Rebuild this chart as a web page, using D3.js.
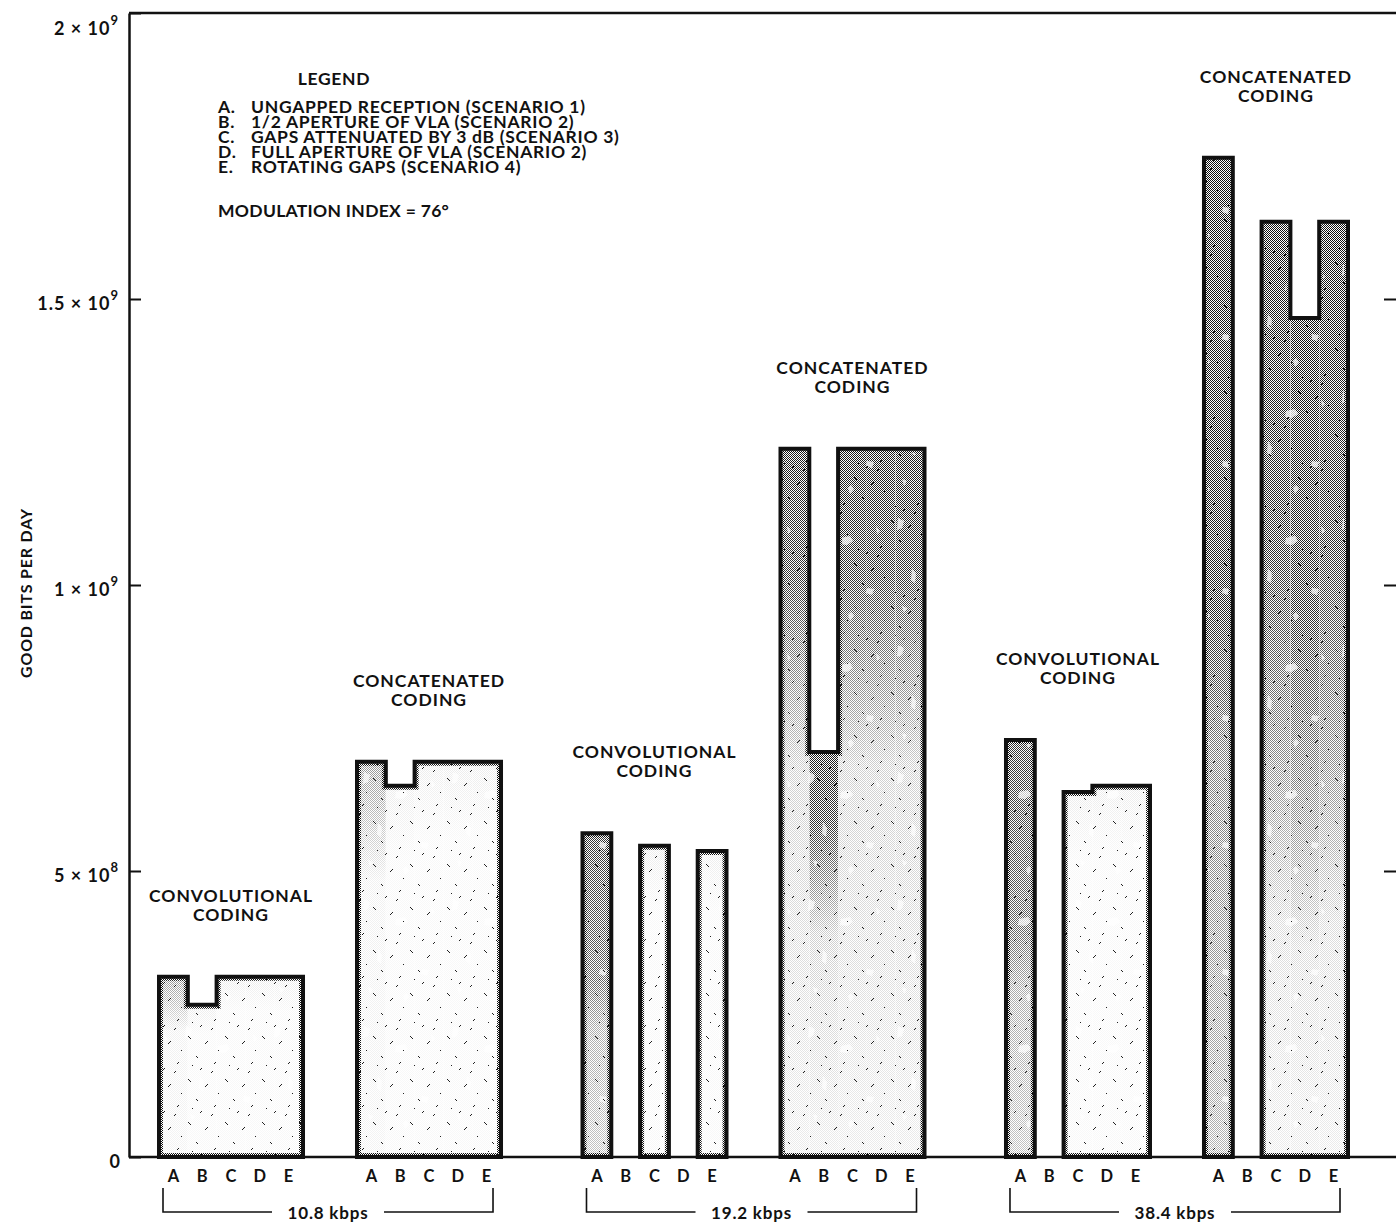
<!DOCTYPE html>
<html>
<head>
<meta charset="utf-8">
<script src="https://cdn.jsdelivr.net/npm/d3@7"></script>
<style>
  body { margin: 0; background: #fff; }
  text { font-family: Lato, "DejaVu Sans", sans-serif; font-weight: bold; fill: #111; }
</style>
</head>
<body>
<svg id="chart" width="1396" height="1226"></svg>
<script>
(function() {

	// ---- data (good bits per day, null = no bar) ----
	var rates = ["10.8 kbps", "19.2 kbps", "38.4 kbps"],
		codings = ["conv", "concat"],
		codingLabels = { conv: ["CONVOLUTIONAL", "CODING"], concat: ["CONCATENATED", "CODING"] },
		scenarios = ["A", "B", "C", "D", "E"];

	var conv108   = [3.15e8, 2.66e8, 3.15e8, 3.15e8, 3.15e8],
		concat108 = [6.91e8, 6.49e8, 6.91e8, 6.91e8, 6.91e8],
		conv192   = [5.66e8, null, 5.44e8, null, 5.35e8],
		concat192 = [12.38e8, 7.08e8, 12.38e8, 12.38e8, 12.38e8],
		conv384   = [7.29e8, null, 6.38e8, 6.49e8, 6.49e8],
		concat384 = [17.47e8, null, 16.35e8, 14.67e8, 16.35e8];

	var yTicks = [0, 5e8, 1e9, 1.5e9, 2e9],
		yTickMantissa = ["0", "5", "1", "1.5", "2"],
		yTickExponent = [null, "8", "9", "9", "9"];

	var legendTitle = "LEGEND",
		legendKeys = ["A.", "B.", "C.", "D.", "E."],
		legendItems = [
			"UNGAPPED RECEPTION (SCENARIO 1)",
			"1/2 APERTURE OF VLA (SCENARIO 2)",
			"GAPS ATTENUATED BY 3 dB (SCENARIO 3)",
			"FULL APERTURE OF VLA (SCENARIO 2)",
			"ROTATING GAPS (SCENARIO 4)"
		],
		legendNote = "MODULATION INDEX = 76°",
		yTitle = "GOOD BITS PER DAY";

	var groups = [
		{ rate: rates[0], coding: "conv",   values: conv108 },
		{ rate: rates[0], coding: "concat", values: concat108 },
		{ rate: rates[1], coding: "conv",   values: conv192 },
		{ rate: rates[1], coding: "concat", values: concat192 },
		{ rate: rates[2], coding: "conv",   values: conv384 },
		{ rate: rates[2], coding: "concat", values: concat384 }
	];

	// shading of the screen tone, per group and scenario (style only)
	var tones = [
		["light", "plain", "plain", "plain", "plain"],
		["light", "plain", "plain", "plain", "plain"],
		["medA", null, "plain", null, "plain"],
		["darkTop", "darkTop", "darkTop", "darkTop", "darkTop"],
		["medA", null, "plain", "plain", "plain"],
		["darkA", null, "dark", "dark", "dark"]
	];
	var toneStops = {
		plain:   [[0, 0.08], [0.2, 0.03], [1, 0.03]],
		light:   [[0, 0.45], [0.12, 0.3], [0.3, 0.06], [1, 0.05]],
		medA:    [[0, 0.85], [0.45, 0.65], [0.6, 0.35], [1, 0.25]],
		darkTop: [[0, 0.95], [0.18, 0.85], [0.34, 0.45], [0.45, 0.2], [1, 0.08]],
		darkA:   [[0, 1], [0.45, 0.92], [0.6, 0.55], [1, 0.32]],
		dark:    [[0, 1], [0.35, 0.88], [0.6, 0.45], [0.75, 0.15], [1, 0.08]]
	};

	var width = 1396,
		axisX = 129;

	var svg = d3.select('#chart');

	var x0 = d3.scaleBand().domain(rates).range([159, 1348]).paddingInner(0.1924),
		x1 = d3.scaleBand().domain(codings).range([0, x0.bandwidth()]).paddingInner(0.2727),
		x2 = d3.scaleBand().domain(scenarios).range([0, x1.bandwidth()]),
		y = d3.scaleLinear().domain([0, 2e9]).range([1157, 13]);

	var groupX = function(g) { return x0(g.rate) + x1(g.coding); };

	// ---- patterns, gradients, masks ----
	var defs = svg.append('defs');

	var checker = defs.append('pattern')
		.attr('id', 'checker')
		.attr('patternUnits', 'userSpaceOnUse')
		.attr('width', 2).attr('height', 2);
	checker.append('rect').attr('x', 0).attr('y', 0).attr('width', 1).attr('height', 1).attr('fill', '#111');
	checker.append('rect').attr('x', 1).attr('y', 1).attr('width', 1).attr('height', 1).attr('fill', '#111');

	// sparse speckle texture
	var speck = defs.append('pattern')
		.attr('id', 'speck')
		.attr('patternUnits', 'userSpaceOnUse')
		.attr('width', 37).attr('height', 43);
	[[3, 4], [4, 5], [5, 6], [20, 11], [21, 10], [22, 9], [11, 24], [12, 25], [30, 30], [29, 31],
	 [15, 37], [16, 36], [33, 18], [7, 33], [26, 40], [27, 39]].forEach(function(p) {
		speck.append('rect').attr('x', p[0]).attr('y', p[1]).attr('width', 1).attr('height', 1).attr('fill', '#222');
	});

	// irregular white blotches that break up the screen tone
	var blotch = defs.append('pattern')
		.attr('id', 'blotch')
		.attr('patternUnits', 'userSpaceOnUse')
		.attr('width', 89).attr('height', 127);
	["M8,10l6,3l-2,7l-5,2z", "M40,30l9,-2l3,5l-6,4l-7,-1z", "M22,60l4,6l-1,9l-4,-3z",
	 "M66,80l7,1l-2,6l-6,-2z", "M50,104l3,4l-4,5l-2,-6z", "M75,18l4,5l-3,3z", "M12,98l5,2l-3,5z"].forEach(function(s) {
		blotch.append('path').attr('d', s).attr('fill', '#fff').attr('fill-opacity', 0.7);
	});

	Object.keys(toneStops).forEach(function(name) {
		var grad = defs.append('linearGradient')
			.attr('id', 'grad-' + name)
			.attr('x1', 0).attr('y1', 0).attr('x2', 0).attr('y2', 1);
		toneStops[name].forEach(function(s) {
			grad.append('stop').attr('offset', s[0]).attr('stop-color', '#fff').attr('stop-opacity', s[1]);
		});
		defs.append('mask')
			.attr('id', 'mask-' + name)
			.attr('maskContentUnits', 'objectBoundingBox')
			.append('rect')
				.attr('x', 0).attr('y', 0).attr('width', 1).attr('height', 1)
				.attr('fill', 'url(#grad-' + name + ')');
	});

	// runs of neighbouring scenarios that have a value
	var runs = function(values) {
		var out = [], cur = null;
		values.forEach(function(v, i) {
			if (v == null) { cur = null; return; }
			if (!cur) { cur = []; out.push(cur); }
			cur.push(i);
		});
		return out;
	};

	var outline = function(g, run) {
		var ox = groupX(g), p = d3.path(), xb = 0;
		p.moveTo(ox + x2(scenarios[run[0]]), y(0));
		run.forEach(function(i) {
			var xa = ox + x2(scenarios[i]);
			xb = xa + x2.bandwidth();
			p.lineTo(xa, y(g.values[i]));
			p.lineTo(xb, y(g.values[i]));
		});
		p.lineTo(xb, y(0));
		p.closePath();
		return p.toString();
	};

	// ---- bars ----
	var barLayer = svg.append('g').attr('class', 'bars');

	groups.forEach(function(g, gi) {
		runs(g.values).forEach(function(run, ri) {
			var id = 'clip-' + gi + '-' + ri,
				d = outline(g, run);

			defs.append('clipPath').attr('id', id).append('path').attr('d', d);

			var shape = barLayer.append('g').attr('clip-path', 'url(#' + id + ')');

			shape.append('path').attr('d', d).attr('fill', '#fff');

			run.forEach(function(i) {
				var tone = tones[gi][i];
				if (!tone) return;
				shape.append('rect')
					.attr('x', groupX(g) + x2(scenarios[i]))
					.attr('y', y(g.values[i]))
					.attr('width', x2.bandwidth())
					.attr('height', y(0) - y(g.values[i]))
					.attr('fill', 'url(#checker)')
					.attr('mask', 'url(#mask-' + tone + ')');
			});

			shape.append('path').attr('d', d).attr('fill', 'url(#blotch)');
			shape.append('path').attr('d', d).attr('fill', 'url(#speck)');

			// dotted rim just inside the outline
			shape.append('path').attr('d', d)
				.attr('fill', 'none')
				.attr('stroke', 'url(#checker)')
				.attr('stroke-width', 8);

			barLayer.append('path').attr('d', d)
				.attr('fill', 'none')
				.attr('stroke', '#111')
				.attr('stroke-width', 4)
				.attr('stroke-linejoin', 'miter');
		});

		// group caption above the tallest bar
		var top = y(d3.max(g.values)),
			cx = groupX(g) + x1.bandwidth() / 2;
		[0, 1].forEach(function(line) {
			svg.append('text')
				.attr('x', cx).attr('y', top - 75 + line * 19)
				.attr('text-anchor', 'middle')
				.attr('font-size', 17.5).attr('letter-spacing', 1)
				.text(codingLabels[g.coding][line]);
		});

		// scenario letters
		svg.append('g').selectAll('text')
			.data(scenarios)
			.enter().append('text')
				.attr('x', function(s) { return groupX(g) + x2(s) + x2.bandwidth() / 2; })
				.attr('y', 1182)
				.attr('text-anchor', 'middle')
				.attr('font-size', 16.5)
				.text(function(s) { return s; });
	});

	// ---- axes ----
	var left = svg.append('g')
		.attr('transform', 'translate(' + axisX + ',0)')
		.call(d3.axisLeft(y).tickValues(yTicks).tickSize(-12).tickSizeOuter(0).tickFormat(''));
	left.select('.domain').attr('stroke', '#111').attr('stroke-width', 2.5);
	left.selectAll('.tick line').attr('stroke', '#111').attr('stroke-width', 2);

	var right = svg.append('g')
		.attr('transform', 'translate(' + width + ',0)')
		.call(d3.axisRight(y).tickValues(yTicks.slice(1, 4)).tickSize(-12).tickFormat(''));
	right.select('.domain').remove();
	right.selectAll('.tick line').attr('stroke', '#111').attr('stroke-width', 2);

	svg.append('line')
		.attr('x1', axisX).attr('x2', width)
		.attr('y1', y(2e9)).attr('y2', y(2e9))
		.attr('stroke', '#111').attr('stroke-width', 2.5);
	svg.append('line')
		.attr('x1', axisX).attr('x2', width)
		.attr('y1', y(0)).attr('y2', y(0))
		.attr('stroke', '#111').attr('stroke-width', 2.5);

	var tickLabels = svg.append('g').selectAll('text')
		.data(yTicks)
		.enter().append('text')
			.attr('x', function(d, i) { return yTickExponent[i] ? 119 : 121; })
			.attr('y', function(d) { return y(d) + (d === 2e9 ? 22 : 11); })
			.attr('text-anchor', 'end')
			.attr('font-size', 18)
			.attr('letter-spacing', 1);
	tickLabels.append('tspan')
		.text(function(d, i) { return yTickExponent[i] ? yTickMantissa[i] + ' × 10' : yTickMantissa[i]; });
	tickLabels.append('tspan')
		.attr('dy', -10)
		.attr('font-size', 13)
		.text(function(d, i) { return yTickExponent[i] || ''; });

	svg.append('text')
		.attr('transform', 'translate(32,' + (y(1e9) + 8) + ') rotate(-90)')
		.attr('text-anchor', 'middle')
		.attr('font-size', 16)
		.attr('letter-spacing', 0.8)
		.text(yTitle);

	// ---- rate brackets ----
	rates.forEach(function(r) {
		var xa = x0(r) + 4,
			xb = x0(r) + x0.bandwidth() - 8,
			yb = 1212,
			mid = (xa + xb) / 2,
			gap = 56;
		svg.append('path')
			.attr('d', 'M' + xa + ',1188V' + yb + 'H' + (mid - gap) +
				'M' + (mid + gap) + ',' + yb + 'H' + xb + 'V1188')
			.attr('fill', 'none')
			.attr('stroke', '#111')
			.attr('stroke-width', 1.6);
		svg.append('text')
			.attr('x', mid).attr('y', yb + 7)
			.attr('text-anchor', 'middle')
			.attr('font-size', 17)
			.attr('letter-spacing', 0.8)
			.text(r);
	});

	// ---- legend ----
	var legend = svg.append('g').attr('font-size', 17.5).attr('letter-spacing', 0.7);
	legend.append('text')
		.attr('x', 334).attr('y', 85)
		.attr('text-anchor', 'middle')
		.text(legendTitle);
	legend.selectAll('.key')
		.data(legendKeys)
		.enter().append('text')
			.attr('class', 'key')
			.attr('x', 218)
			.attr('y', function(d, i) { return 113 + i * 15; })
			.text(function(d) { return d; });
	legend.selectAll('.item')
		.data(legendItems)
		.enter().append('text')
			.attr('class', 'item')
			.attr('x', 251)
			.attr('y', function(d, i) { return 113 + i * 15; })
			.text(function(d) { return d; });
	legend.append('text')
		.attr('x', 218).attr('y', 217)
		.attr('letter-spacing', 0.3)
		.text(legendNote);

})();
</script>
</body>
</html>
